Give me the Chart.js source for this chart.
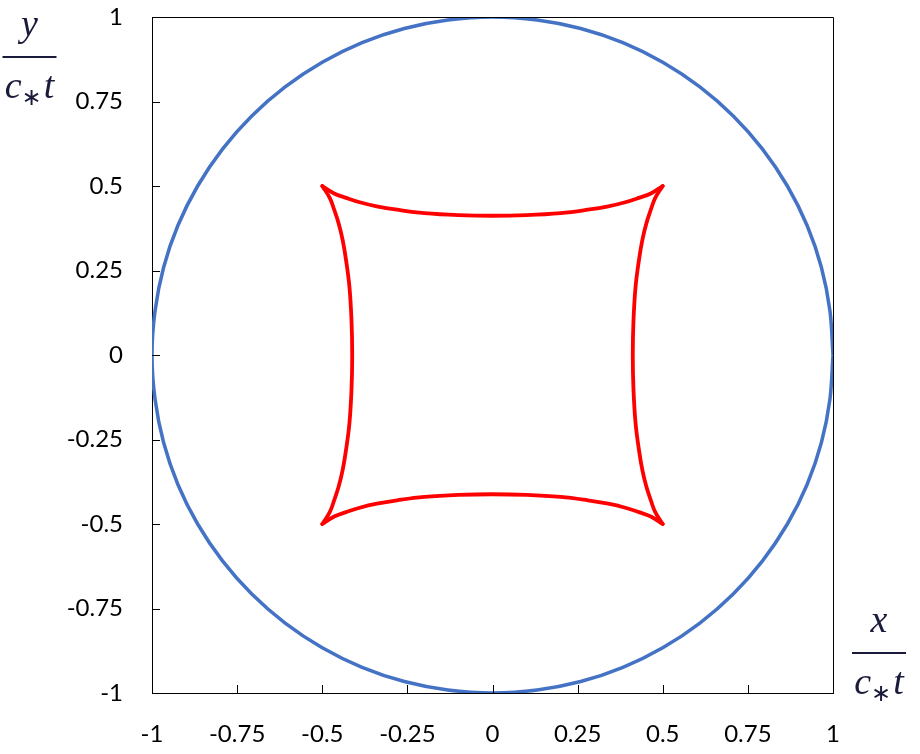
<!DOCTYPE html>
<html>
<head>
<meta charset="utf-8">
<script src="https://cdn.jsdelivr.net/npm/chart.js@4/dist/chart.umd.min.js"></script>
<style>
  html, body { margin: 0; padding: 0; background: #fff; }
  #wrap { width: 920px; height: 754px; }
</style>
</head>
<body>
<div id="wrap"><canvas id="chart" width="920" height="754"></canvas></div>
<script>
// axis ticks
var tickValues = [-1, -0.75, -0.5, -0.25, 0, 0.25, 0.5, 0.75, 1];
var tickLabels = ["-1", "-0.75", "-0.5", "-0.25", "0", "0.25", "0.5", "0.75", "1"];

// blue circle, first quadrant (x, y), mirrored into the other three
var circleQX = [1, 0.991, 0.966, 0.924, 0.866, 0.793, 0.707, 0.609, 0.5, 0.383, 0.259, 0.131, 0];
var circleQY = [0, 0.131, 0.259, 0.383, 0.5, 0.609, 0.707, 0.793, 0.866, 0.924, 0.966, 0.991, 1];

// red curve, one edge: position along edge (s) and distance from centre (d)
var edgeS = [-0.5, -0.465, -0.43, -0.39, -0.34, -0.28, -0.2, -0.1, 0, 0.1, 0.2, 0.28, 0.34, 0.39, 0.43, 0.465, 0.5];
var edgeD = [0.5, 0.478, 0.465, 0.452, 0.44, 0.43, 0.42, 0.414, 0.412, 0.414, 0.42, 0.43, 0.44, 0.452, 0.465, 0.478, 0.5];

var circlePts = [];
[[1, 0, 0, 1], [0, -1, 1, 0], [-1, 0, 0, -1], [0, 1, -1, 0]].forEach(function (m, q) {
  for (var i = (q ? 1 : 0); i < circleQX.length; i++) {
    var a = circleQX[i], b = circleQY[i];
    circlePts.push({ x: m[0] * a + m[1] * b, y: m[2] * a + m[3] * b });
  }
});

function edge(fn) {
  return edgeS.map(function (s, i) { return fn(s, edgeD[i]); });
}
var edges = [
  edge(function (s, d) { return { x: s, y: d }; }),
  edge(function (s, d) { return { x: s, y: -d }; }),
  edge(function (s, d) { return { x: d, y: s }; }),
  edge(function (s, d) { return { x: -d, y: s }; })
];

var datasets = [{
  data: circlePts, borderColor: "#4472C4", borderWidth: 3.5, tension: 0.34
}].concat(edges.map(function (pts) {
  return { data: pts, borderColor: "#FF0000", borderWidth: 3.8, tension: 0.4 };
}));
datasets.forEach(function (d) {
  d.showLine = true; d.pointRadius = 0; d.pointHoverRadius = 0; d.fill = false;
  d.borderCapStyle = "round"; d.borderJoinStyle = "round";
});

function frac(ctx, cx, barY, top, bottom) {
  ctx.save();
  ctx.fillStyle = "#1a1a3a";
  ctx.strokeStyle = "#1a1a3a";
  ctx.textBaseline = "alphabetic";
  ctx.font = "italic 38px 'Liberation Serif'";
  ctx.textAlign = "center";
  ctx.fillText(top, cx, barY - 21);
  ctx.lineWidth = 2;
  ctx.beginPath();
  ctx.moveTo(cx - 27, barY); ctx.lineTo(cx + 27, barY);
  ctx.stroke();
  // c_* t
  ctx.textAlign = "left";
  var wc = ctx.measureText("c").width, wt = ctx.measureText(bottom).width;
  ctx.font = "24px 'DejaVu Sans'";
  var ws = ctx.measureText("\u2217").width;
  var x0 = cx - (wc + ws + wt + 2) / 2, base = barY + 41;
  ctx.font = "italic 38px 'Liberation Serif'";
  ctx.fillText("c", x0, base);
  ctx.font = "24px 'DejaVu Sans'";
  ctx.fillText("\u2217", x0 + wc, base + 7);
  ctx.font = "italic 38px 'Liberation Serif'";
  ctx.fillText(bottom, x0 + wc + ws + 2, base);
  ctx.restore();
}

var decor = {
  id: "decor",
  afterDraw: function (chart) {
    var ctx = chart.ctx, a = chart.chartArea, sx = chart.scales.x, sy = chart.scales.y;
    ctx.save();
    ctx.strokeStyle = "#000";
    ctx.lineWidth = 1;
    ctx.beginPath();
    ctx.moveTo(a.left, a.top + 0.5); ctx.lineTo(a.right + 0.5, a.top + 0.5);
    ctx.lineTo(a.right + 0.5, a.bottom);
    tickValues.forEach(function (v) {
      var px = Math.round(sx.getPixelForValue(v)) + 0.5;
      ctx.moveTo(px, a.bottom); ctx.lineTo(px, a.bottom - 8);
      var py = Math.round(sy.getPixelForValue(v)) + 0.5;
      ctx.moveTo(a.left, py); ctx.lineTo(a.left + 8, py);
    });
    ctx.stroke();
    ctx.restore();
    frac(ctx, 29.5, 57, "y", "t");
    frac(ctx, 879, 653, "x", "t");
  }
};

function axis(pos) {
  return {
    type: "linear", position: pos, min: -1, max: 1,
    afterBuildTicks: function (s) { s.ticks = tickValues.map(function (v) { return { value: v }; }); },
    ticks: {
      color: "#000", font: { family: "Lato", size: 24 },
      padding: pos === "bottom" ? 19 : 21,
      callback: function (v, i) { return tickLabels[i]; }
    },
    grid: { display: false },
    border: { display: true, color: "#000", width: 1 }
  };
}
var xAxis = axis("bottom"), yAxis = axis("left");
xAxis.afterFit = function (s) { s.height = 61; s.paddingLeft = 0; s.paddingRight = 0; };
yAxis.afterFit = function (s) { s.width = 152; s.paddingTop = 0; s.paddingBottom = 0; };

new Chart(document.getElementById("chart").getContext("2d"), {
  type: "scatter",
  data: { datasets: datasets },
  options: {
    responsive: false,
    animation: false,
    layout: { padding: { top: 17, right: 87, left: 0, bottom: 0 } },
    plugins: { legend: { display: false }, tooltip: { enabled: false } },
    scales: { x: xAxis, y: yAxis }
  },
  plugins: [decor]
});
</script>
</body>
</html>
